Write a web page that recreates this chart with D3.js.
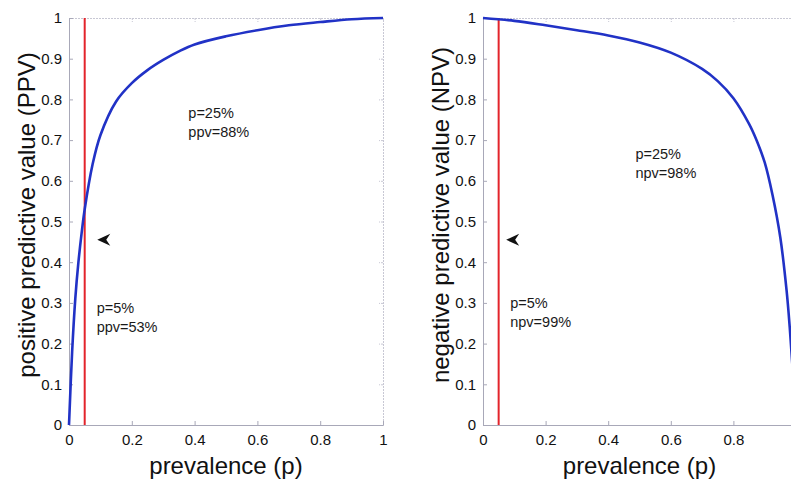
<!DOCTYPE html>
<html>
<head>
<meta charset="utf-8">
<script src="https://cdn.jsdelivr.net/npm/d3@7"></script>
<style>
	body { margin: 0; background: #fff; }
	text { font-family: "Liberation Sans", Arial, sans-serif; }
</style>
</head>
<body>
<svg></svg>
<script>
// values
const ppvPrevalence = [0, 0.01, 0.02, 0.03, 0.04, 0.05, 0.075, 0.1, 0.15, 0.2, 0.25, 0.3, 0.35, 0.4, 0.5, 0.6, 0.7, 0.8, 0.9, 1];
const ppvValues = [0, 0.18, 0.31, 0.40, 0.47, 0.53, 0.64, 0.712, 0.795, 0.84, 0.872, 0.897, 0.918, 0.935, 0.955, 0.97, 0.982, 0.99, 0.997, 1];

const npvPrevalence = [0, 0.1, 0.2, 0.3, 0.4, 0.5, 0.6, 0.7, 0.75, 0.8, 0.85, 0.875, 0.9, 0.925, 0.95, 0.97, 0.98, 0.99, 1];
const npvValues = [1, 0.993, 0.982, 0.97, 0.957, 0.94, 0.915, 0.875, 0.845, 0.803, 0.74, 0.698, 0.645, 0.565, 0.46, 0.33, 0.24, 0.13, 0];

const xTicks = [0, 0.2, 0.4, 0.6, 0.8, 1];
const yTicks = [0, 0.1, 0.2, 0.3, 0.4, 0.5, 0.6, 0.7, 0.8, 0.9, 1];
const cutoff = 0.05;

const ppvNotes = [['p=25%', 'ppv=88%'], ['p=5%', 'ppv=53%']];
const npvNotes = [['p=25%', 'npv=98%'], ['p=5%', 'npv=99%']];

var svgWidth = 791;
var svgHeight = 479;

var svg = d3.select('svg')
			.attr('width', svgWidth)
			.attr('height', svgHeight);

function drawPanel(opts) {
	var x = d3.scaleLinear().domain([0, 1]).range(opts.xRange);
	var y = d3.scaleLinear().domain([0, 1]).range([425, 18]);
	var g = svg.append('g');

	// light box with inward ticks
	var box = g.append('g').attr('class', 'box');
	box.append('g')
		.attr('transform', 'translate(0,' + y(1) + ')')
		.call(d3.axisTop(x).tickValues(xTicks).tickSize(-4).tickFormat(''));
	box.append('g')
		.attr('transform', 'translate(' + x(1) + ',0)')
		.call(d3.axisRight(y).tickValues(yTicks).tickSize(-4).tickFormat(''));
	box.selectAll('path, line').attr('stroke', '#c8c8d4').attr('stroke-dasharray', '2,1');

	// only label ticks that fall inside the picture
	var shownX = xTicks.filter(d => x(d) < svgWidth - 4);

	var xAxis = g.append('g')
				.attr('transform', 'translate(0,' + y(0) + ')')
				.call(d3.axisBottom(x).tickValues(shownX).tickSizeInner(-4).tickSizeOuter(0).tickPadding(9).tickFormat(d => d));
	var yAxis = g.append('g')
				.attr('transform', 'translate(' + x(0) + ',0)')
				.call(d3.axisLeft(y).tickValues(yTicks).tickSizeInner(-4).tickSizeOuter(0).tickPadding(7).tickFormat(d => d));
	[xAxis, yAxis].forEach(a => {
		a.selectAll('path, line').attr('stroke', '#a8a8b8');
		a.selectAll('text').attr('font-size', 15).attr('fill', '#111');
	});

	// cutoff line
	g.append('line')
		.attr('x1', x(cutoff)).attr('x2', x(cutoff))
		.attr('y1', y(0)).attr('y2', y(1))
		.attr('stroke', '#e3242b')
		.attr('stroke-width', 2);

	var line = d3.line()
				.x(d => x(d[0]))
				.y(d => y(d[1]))
				.curve(d3.curveCatmullRom.alpha(0.5));

	g.append('path')
		.datum(d3.zip(opts.px, opts.py))
		.attr('d', line)
		.attr('fill', 'none')
		.attr('stroke', '#2132c6')
		.attr('stroke-width', 2.6);

	// annotations
	opts.notes.forEach((lines, i) => {
		var t = g.append('text')
				.attr('font-size', 14.5)
				.attr('fill', '#1a1a1a');
		t.selectAll('tspan')
			.data(lines)
			.enter()
			.append('tspan')
			.attr('x', x(opts.notePos[i][0]))
			.attr('y', (d, j) => y(opts.notePos[i][1]) + j * 19)
			.text(d => d);
	});

	// arrow head
	var ax = x(opts.arrow[0]), ay = y(opts.arrow[1]);
	g.append('path')
		.attr('d', 'M' + ax + ',' + ay + 'l13,-6l-4,6l4,6z')
		.attr('fill', '#111');

	g.append('text')
		.attr('x', (opts.xRange[0] + opts.xRange[1]) / 2)
		.attr('y', 474)
		.attr('text-anchor', 'middle')
		.attr('font-size', 24)
		.attr('fill', '#111')
		.text('prevalence (p)');

	g.append('text')
		.attr('transform', 'translate(' + (opts.xRange[0] - 34) + ',215) rotate(-90)')
		.attr('text-anchor', 'middle')
		.attr('font-size', 24)
		.attr('fill', '#111')
		.text(opts.yLabel);
}

drawPanel({
	xRange: [69, 383],
	px: ppvPrevalence,
	py: ppvValues,
	notes: ppvNotes,
	notePos: [[0.38, 0.755], [0.088, 0.275]],
	arrow: [0.09, 0.455],
	yLabel: 'positive predictive value (PPV)'
});

drawPanel({
	xRange: [483, 796],
	px: npvPrevalence,
	py: npvValues,
	notes: npvNotes,
	notePos: [[0.487, 0.654], [0.087, 0.287]],
	arrow: [0.074, 0.455],
	yLabel: 'negative predictive value (NPV)'
});
</script>
</body>
</html>
